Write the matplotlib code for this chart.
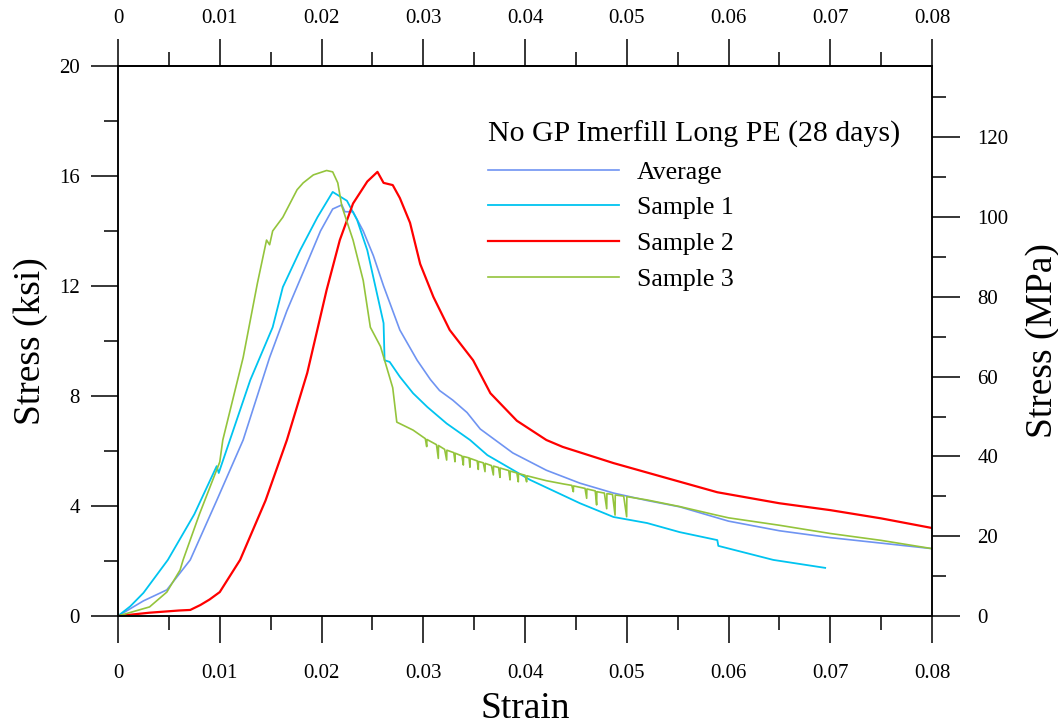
# stress-strain curves, No GP Imerfill Long PE (28 days)
import matplotlib
matplotlib.use("Agg")
import matplotlib.pyplot as plt
from matplotlib.ticker import MultipleLocator, FixedLocator, FixedFormatter

plt.rcParams['font.family'] = ['Liberation Serif', 'DejaVu Serif']

# data (strain, stress in ksi)
avg_strain = [0, 0.0025, 0.0048, 0.0071, 0.0097, 0.0123, 0.0149, 0.0166, 0.0182, 0.0199,
              0.0211, 0.0220, 0.0223, 0.0231, 0.0241, 0.0251, 0.0261, 0.0267, 0.0277, 0.0294,
              0.0307, 0.0316, 0.0329, 0.0343, 0.0356, 0.0388, 0.0421, 0.0454, 0.0487, 0.0520,
              0.0552, 0.0600, 0.0650, 0.0700, 0.0750, 0.0800]
avg_stress = [0, 0.55, 0.95, 2.04, 4.2, 6.4, 9.4, 11.1, 12.5, 14.0,
              14.8, 14.95, 14.7, 14.7, 14.0, 13.1, 12.0, 11.4, 10.4, 9.3,
              8.6, 8.2, 7.85, 7.4, 6.8, 5.93, 5.3, 4.83, 4.47, 4.2,
              3.97, 3.45, 3.1, 2.85, 2.65, 2.45]

s1_strain = [0, 0.0012, 0.0025, 0.0049, 0.0075, 0.0097, 0.0099, 0.0110, 0.0130, 0.0152,
             0.0162, 0.0179, 0.0196, 0.0211, 0.0225, 0.0235, 0.0245, 0.0261, 0.0262, 0.0267,
             0.0277, 0.0290, 0.0304, 0.0323, 0.0346, 0.0363, 0.0405, 0.0454, 0.0487, 0.0520,
             0.0552, 0.0589, 0.0590, 0.0644, 0.0695]
s1_stress = [0, 0.35, 0.84, 2.04, 3.7, 5.45, 5.2, 6.4, 8.58, 10.5,
             11.96, 13.3, 14.5, 15.42, 15.1, 14.4, 13.3, 10.65, 9.3, 9.24,
             8.7, 8.1, 7.6, 7.0, 6.4, 5.85, 4.95, 4.1, 3.6, 3.38,
             3.05, 2.76, 2.55, 2.04, 1.75]

s2_strain = [0, 0.0031, 0.0060, 0.0071, 0.0081, 0.0090, 0.0100, 0.0120, 0.0145, 0.0166,
             0.0186, 0.0205, 0.0218, 0.0231, 0.0245, 0.0255, 0.0261, 0.0270, 0.0277, 0.0287,
             0.0297, 0.0310, 0.0326, 0.0349, 0.0366, 0.0392, 0.0421, 0.0437, 0.0487, 0.0536,
             0.0589, 0.0650, 0.0700, 0.0750, 0.0800]
s2_stress = [0, 0.12, 0.2, 0.22, 0.4, 0.6, 0.87, 2.04, 4.2, 6.4,
             8.84, 11.85, 13.67, 15.0, 15.8, 16.15, 15.75, 15.67, 15.2, 14.3,
             12.8, 11.6, 10.4, 9.3, 8.1, 7.1, 6.4, 6.15, 5.56, 5.05,
             4.5, 4.1, 3.85, 3.55, 3.2]

s3_strain = [0, 0.0031, 0.0048, 0.0061, 0.0064, 0.0080, 0.0100, 0.0103, 0.0123, 0.0137,
             0.0146, 0.0149, 0.0152, 0.0162, 0.0176, 0.0182, 0.0192, 0.0205, 0.0211, 0.0216,
             0.0220, 0.0231, 0.0241, 0.0248, 0.0258, 0.0270, 0.0274, 0.0290,
             0.0302, 0.03034, 0.03036, 0.0313, 0.03148, 0.0315, 0.0321, 0.03230, 0.03232,
             0.0330, 0.03312, 0.03314, 0.0338, 0.03394, 0.03396, 0.0345, 0.03459, 0.03461,
             0.0353, 0.03541, 0.03543, 0.0359, 0.03607, 0.03609, 0.0367, 0.03689, 0.03691,
             0.0374, 0.03754, 0.03756, 0.0384, 0.03853, 0.03855, 0.0392, 0.03934, 0.03936,
             0.0400, 0.04016, 0.04018, 0.0421, 0.0438,
             0.0446, 0.04475, 0.04477, 0.0459, 0.04606, 0.04608, 0.0469, 0.04704, 0.04706,
             0.0478, 0.04803, 0.04805, 0.0486, 0.04885, 0.04887, 0.0497, 0.04999, 0.05001,
             0.0520, 0.0536, 0.0552, 0.0588, 0.0600, 0.0650, 0.0700, 0.0750, 0.0800]
s3_stress = [0, 0.33, 0.87, 1.67, 2.04, 3.7, 5.6, 6.4, 9.4, 12.1,
             13.67, 13.5, 14.0, 14.5, 15.5, 15.75, 16.04, 16.2, 16.15, 15.75,
             14.9, 13.67, 12.2, 10.5, 9.8, 8.3, 7.05, 6.76,
             6.45, 6.16, 6.42, 6.23, 5.73, 6.20, 6.06, 5.67, 6.03,
             5.94, 5.61, 5.92, 5.82, 5.49, 5.80, 5.75, 5.41, 5.73,
             5.64, 5.33, 5.62, 5.57, 5.25, 5.55, 5.47, 5.13, 5.45,
             5.40, 5.04, 5.38, 5.29, 4.95, 5.27, 5.20, 4.88, 5.18,
             5.12, 4.88, 5.10, 4.92, 4.80,
             4.75, 4.52, 4.73, 4.64, 4.28, 4.62, 4.55, 4.04, 4.52,
             4.47, 3.90, 4.45, 4.42, 3.67, 4.40, 4.36, 3.61, 4.34,
             4.22, 4.10, 3.98, 3.67, 3.57, 3.30, 3.00, 2.75, 2.45]

series_names = ['Average', 'Sample 1', 'Sample 2', 'Sample 3']
colors = ['#6f94f2', '#00c4f0', '#ff0000', '#94c43c']
widths = [1.2, 1.3, 1.6, 1.2]

x_ticks = [0, 0.01, 0.02, 0.03, 0.04, 0.05, 0.06, 0.07, 0.08]
x_tick_labels = ['0', '0.01', '0.02', '0.03', '0.04', '0.05', '0.06', '0.07', '0.08']
ksi_ticks = [0, 4, 8, 12, 16, 20]
mpa_ticks = [0, 20, 40, 60, 80, 100, 120]
KSI_TO_MPA = 6.894757

fig = plt.figure(figsize=(10.58, 7.25), dpi=100)
ax = fig.add_axes([118 / 1058, 1 - 616 / 725, 814 / 1058, 550 / 725])

curves = [(avg_strain, avg_stress), (s1_strain, s1_stress),
          (s2_strain, s2_stress), (s3_strain, s3_stress)]
for (xs, ys), name, c, w in zip(curves, series_names, colors, widths):
    ax.plot(xs, ys, color=c, lw=w, label=name)

ax.set_xlim(0, 0.08)
ax.set_ylim(0, 20)

tick_kw = dict(direction='out', width=1.1, colors='black')
ax.xaxis.set_major_locator(FixedLocator(x_ticks))
ax.xaxis.set_major_formatter(FixedFormatter(x_tick_labels))
ax.xaxis.set_minor_locator(MultipleLocator(0.005))
ax.yaxis.set_major_locator(FixedLocator(ksi_ticks))
ax.yaxis.set_minor_locator(MultipleLocator(2))
ax.tick_params(axis='both', which='major', length=19.4, labelsize=15, **tick_kw)
ax.tick_params(axis='both', which='minor', length=10, **tick_kw)
ax.tick_params(axis='x', which='major', pad=15)
ax.tick_params(axis='y', which='major', pad=8)

# top strain axis
top = ax.secondary_xaxis('top')
top.xaxis.set_major_locator(FixedLocator(x_ticks))
top.xaxis.set_major_formatter(FixedFormatter(x_tick_labels))
top.xaxis.set_minor_locator(MultipleLocator(0.005))
top.tick_params(axis='x', which='major', length=19.4, labelsize=15, pad=8, **tick_kw)
top.tick_params(axis='x', which='minor', length=10, **tick_kw)

# right MPa axis
ax2 = ax.twinx()
ax2.set_ylim(0, 20 * KSI_TO_MPA)
ax2.yaxis.set_major_locator(FixedLocator(mpa_ticks))
ax2.yaxis.set_minor_locator(MultipleLocator(10))
ax2.tick_params(axis='y', which='major', length=20.5, labelsize=15, pad=12, **tick_kw)
ax2.tick_params(axis='y', which='minor', length=10, **tick_kw)

for a in (ax, ax2, top):
    for sp in a.spines.values():
        sp.set_linewidth(1.1)

ax.set_xlabel('Strain', fontsize=27, labelpad=6)
ax.set_ylabel('Stress (ksi)', fontsize=27, labelpad=8)
ax2.set_ylabel('Stress (MPa)', fontsize=27, labelpad=12)

leg = ax.legend(title='No GP Imerfill Long PE (28 days)', loc='upper left',
                bbox_to_anchor=(0.454, 0.901), frameon=False, fontsize=18.5,
                title_fontsize=21.5, handlelength=5.1, handletextpad=0.7,
                labelspacing=0.5, borderpad=0, borderaxespad=0, alignment='left')
leg.get_title().set_ha('left')

fig.savefig('out.png', dpi=100)
